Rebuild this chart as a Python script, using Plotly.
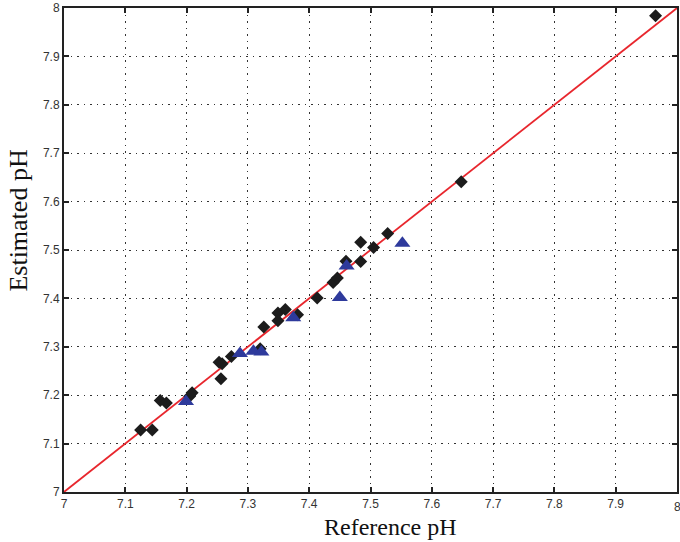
import plotly.graph_objects as go

# Data
diamond_x = [7.125, 7.144, 7.157, 7.167, 7.205, 7.209, 7.253, 7.258, 7.256, 7.273,
             7.320, 7.326, 7.349, 7.349, 7.361, 7.381, 7.413, 7.439, 7.446, 7.460,
             7.484, 7.484, 7.505, 7.528, 7.648, 7.965]
diamond_y = [7.128, 7.128, 7.189, 7.184, 7.198, 7.205, 7.268, 7.265, 7.234, 7.280,
             7.296, 7.341, 7.370, 7.354, 7.377, 7.366, 7.401, 7.433, 7.442, 7.477,
             7.476, 7.516, 7.505, 7.534, 7.641, 7.984]
tri_x = [7.199, 7.287, 7.309, 7.322, 7.374, 7.450, 7.461, 7.552]
tri_y = [7.187, 7.286, 7.291, 7.289, 7.360, 7.402, 7.467, 7.514]
line_x = [7.0, 8.0]
line_y = [7.0, 8.0]
ticks = [7.0, 7.1, 7.2, 7.3, 7.4, 7.5, 7.6, 7.7, 7.8, 7.9, 8.0]
tick_text = ["7", "7.1", "7.2", "7.3", "7.4", "7.5", "7.6", "7.7", "7.8", "7.9", "8"]

fig = go.Figure()
fig.add_trace(go.Scatter(x=line_x, y=line_y, mode="lines",
                         line=dict(color="#e8262d", width=1.8), showlegend=False))
fig.add_trace(go.Scatter(x=diamond_x, y=diamond_y, mode="markers",
                         marker=dict(symbol="diamond", size=10, color="#1c1c1c"),
                         showlegend=False))
fig.add_trace(go.Scatter(x=tri_x, y=tri_y, mode="markers",
                         marker=dict(symbol="triangle-up", size=14, color="#2e3a9c"),
                         showlegend=False))

axis_common = dict(
    range=[7, 8], tickvals=ticks, ticktext=tick_text,
    showgrid=True, gridcolor="#333333", griddash="1.5px,5px", gridwidth=1.2,
    showline=True, linecolor="#222222", linewidth=2, mirror="ticks",
    ticks="inside", ticklen=5, tickwidth=1.5, tickcolor="#222222",
    zeroline=False,
    tickfont=dict(family="Liberation Sans, Arial", size=12, color="#333333"),
)

fig.update_layout(
    width=680, height=542,
    margin=dict(l=64, r=1, t=8, b=50),
    paper_bgcolor="white", plot_bgcolor="white",
    xaxis=dict(**axis_common),
    yaxis=dict(**axis_common),
    annotations=[
        dict(text="8", xref="paper", yref="paper", x=1.0, y=-0.012,
             xanchor="center", yanchor="top", showarrow=False,
             font=dict(family="Liberation Sans, Arial", size=12, color="#333333")),
        dict(text="Reference pH", xref="paper", yref="paper", x=0.533, y=-0.0723,
             xanchor="center", yanchor="middle", showarrow=False,
             font=dict(family="Liberation Serif, Times New Roman", size=24, color="#111111")),
        dict(text="Estimated pH", xref="paper", yref="paper", x=-0.074, y=0.56,
             xanchor="center", yanchor="middle", showarrow=False, textangle=-90,
             font=dict(family="Liberation Serif, Times New Roman", size=26, color="#111111")),
    ],
)

fig.write_html("out.html")
